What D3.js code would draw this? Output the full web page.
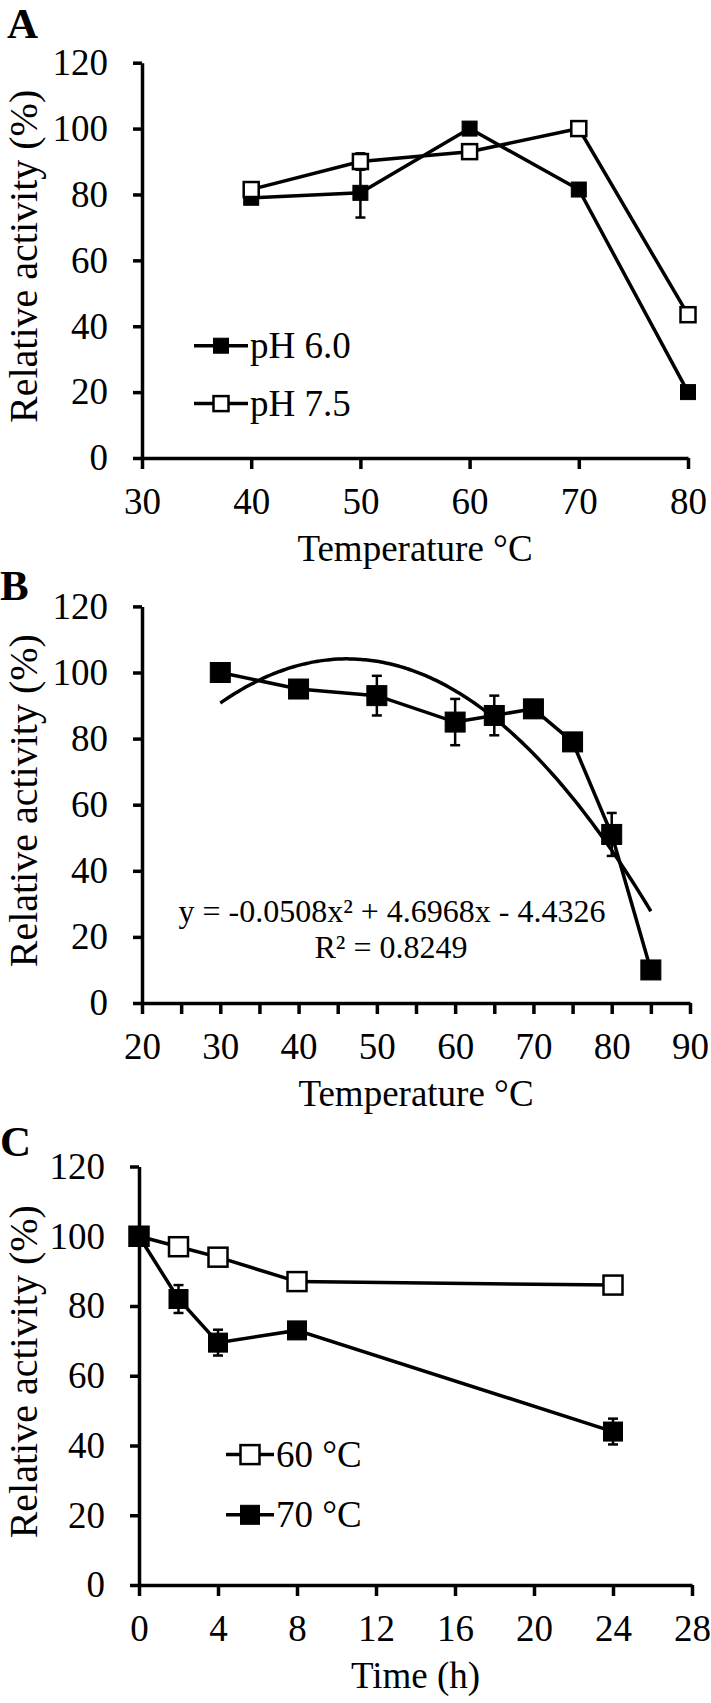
<!DOCTYPE html>
<html>
<head>
<meta charset="utf-8">
<script src="https://cdn.jsdelivr.net/npm/d3@7"></script>
<style>
	body { margin: 0; background: #fff; }
	svg { display: block; }
	text { font-family: "Liberation Serif", "Times New Roman", serif; fill: #000; }
</style>
</head>
<body>
<svg id="chart" width="711" height="1703"></svg>
<script>
(function() {
	'use strict';

	// --- Panel A: temperature profile at two pH values
	const tempA = [40, 50, 60, 70, 80];
	const pH60 = [79, 80.5, 100, 81.5, 20];
	const pH60Err = [0, 7.5, 0, 0, 0];
	const pH75 = [81.5, 90, 93, 100, 43.5];
	const pH75Err = [0, 2.5, 0, 0, 0];
	const ticksA = [30, 40, 50, 60, 70, 80];

	// --- Panel B: temperature profile with quadratic fit
	const tempB = [30, 40, 50, 60, 65, 70, 75, 80, 85];
	const actB = [100, 95, 93, 85, 87, 89, 79, 51, 10];
	const actBErr = [0, 0, 6, 7, 6, 2.5, 0, 6.5, 0];
	const fitB = [-0.0508, 4.6968, -4.4326];
	const ticksB = [20, 25, 30, 35, 40, 45, 50, 55, 60, 65, 70, 75, 80, 85, 90];
	const labelsB = [20, 30, 40, 50, 60, 70, 80, 90];

	// --- Panel C: thermostability over time
	const timeC = [0, 2, 4, 8, 24];
	const at60 = [100, 97, 94, 87, 86];
	const at70 = [100, 82, 69.5, 73, 44];
	const at70Err = [0, 4, 3.7, 0, 3.7];
	const ticksC = [0, 4, 8, 12, 16, 20, 24, 28];

	const yTicks = [0, 20, 40, 60, 80, 100, 120];

	const svg = d3.select('#chart');

	function panel(opt) {
		const g = svg.append('g');
		const x = d3.scaleLinear().domain(opt.xDomain).range([opt.left, opt.right]);
		const y = d3.scaleLinear().domain([0, 120]).range([opt.bottom, opt.top]);

		const yAxis = g.append('g')
			.attr('transform', 'translate(' + opt.left + ',0)')
			.call(d3.axisLeft(y).tickValues(yTicks).tickSize(9).tickSizeOuter(0).tickPadding(25));

		const xAxis = g.append('g')
			.attr('transform', 'translate(0,' + opt.bottom + ')')
			.call(d3.axisBottom(x).tickValues(opt.xTicks).tickSize(11).tickSizeOuter(0).tickPadding(19)
				.tickFormat(function(d) { return opt.xLabels.indexOf(d) >= 0 ? d : ''; }));

		[yAxis, xAxis].forEach(function(a) {
			a.attr('font-family', null).attr('font-size', null);
			a.select('.domain').attr('stroke', '#000').attr('stroke-width', 3.5);
			a.selectAll('.tick line').attr('stroke', '#000').attr('stroke-width', 3.5);
			a.selectAll('.tick text').style('font-size', '37px');
		});

		g.append('text')
			.attr('transform', 'translate(37,' + ((opt.top + opt.bottom) / 2 - 4) + ') rotate(-90)')
			.attr('text-anchor', 'middle')
			.style('font-size', '40px')
			.text('Relative activity (%)');

		g.append('text')
			.attr('x', (opt.left + opt.right) / 2)
			.attr('y', opt.bottom + 103)
			.attr('text-anchor', 'middle')
			.style('font-size', '37px')
			.text(opt.xTitle);

		g.append('text')
			.attr('x', opt.letterX)
			.attr('y', opt.letterY)
			.style('font-size', '43px')
			.style('font-weight', 'bold')
			.text(opt.letter);

		return { g: g, x: x, y: y };
	}

	function series(p, xs, ys, errs, filled, size) {
		const pts = xs.map(function(d, i) { return { x: d, y: ys[i], e: errs ? errs[i] : 0 }; });
		const line = d3.line().x(function(d) { return p.x(d.x); }).y(function(d) { return p.y(d.y); });
		p.g.append('path')
			.datum(pts)
			.attr('d', line)
			.attr('fill', 'none')
			.attr('stroke', '#000')
			.attr('stroke-width', 3.5);

		const eb = p.g.append('g').attr('stroke', '#000').attr('stroke-width', 2.5);
		pts.filter(function(d) { return d.e > 0; }).forEach(function(d) {
			const cx = p.x(d.x);
			eb.append('line').attr('x1', cx).attr('x2', cx).attr('y1', p.y(d.y - d.e)).attr('y2', p.y(d.y + d.e));
			[d.y - d.e, d.y + d.e].forEach(function(v) {
				eb.append('line').attr('x1', cx - 5).attr('x2', cx + 5).attr('y1', p.y(v)).attr('y2', p.y(v));
			});
		});

		p.g.selectAll(null)
			.data(pts)
			.enter().append('rect')
			.attr('x', function(d) { return p.x(d.x) - size / 2; })
			.attr('y', function(d) { return p.y(d.y) - size / 2; })
			.attr('width', size)
			.attr('height', size)
			.attr('fill', filled ? '#000' : '#fff')
			.attr('stroke', '#000')
			.attr('stroke-width', filled ? 1 : 2.5);
	}

	function legendRow(x0, x1, yy, label, filled, size) {
		svg.append('line')
			.attr('x1', x0).attr('x2', x1).attr('y1', yy).attr('y2', yy)
			.attr('stroke', '#000').attr('stroke-width', 3.5);
		const cx = (x0 + x1) / 2;
		svg.append('rect')
			.attr('x', cx - size / 2).attr('y', yy - size / 2)
			.attr('width', size).attr('height', size)
			.attr('fill', filled ? '#000' : '#fff')
			.attr('stroke', '#000').attr('stroke-width', filled ? 1 : 2.5);
		svg.append('text')
			.attr('x', x1 + 2).attr('y', yy + 12)
			.style('font-size', '37px')
			.text(label);
	}

	// Panel A
	const pa = panel({
		left: 142, right: 688, top: 62.7, bottom: 458,
		xDomain: [30, 80], xTicks: ticksA, xLabels: ticksA,
		xTitle: 'Temperature °C', letter: 'A', letterX: 7, letterY: 38
	});
	series(pa, tempA, pH60, pH60Err, true, 15);
	series(pa, tempA, pH75, pH75Err, false, 15);
	legendRow(194, 248, 345.7, 'pH 6.0', true, 15);
	legendRow(194, 248, 403.6, 'pH 7.5', false, 15);

	// Panel B
	const pb = panel({
		left: 142, right: 690, top: 606.4, bottom: 1003,
		xDomain: [20, 90], xTicks: ticksB, xLabels: labelsB,
		xTitle: 'Temperature °C', letter: 'B', letterX: 0, letterY: 600
	});
	const fitLine = d3.line()
		.curve(d3.curveBasis)
		.x(function(t) { return pb.x(t); })
		.y(function(t) { return pb.y(fitB[0] * t * t + fitB[1] * t + fitB[2]); });
	pb.g.append('path')
		.datum(d3.range(tempB[0], tempB[tempB.length - 1] + 0.01, 0.5))
		.attr('d', fitLine)
		.attr('fill', 'none')
		.attr('stroke', '#000')
		.attr('stroke-width', 3.5);
	series(pb, tempB, actB, actBErr, true, 20);
	pb.g.append('text')
		.attr('x', 392).attr('y', 922)
		.attr('text-anchor', 'middle')
		.style('font-size', '32px')
		.text('y = -0.0508x² + 4.6968x - 4.4326');
	pb.g.append('text')
		.attr('x', 391).attr('y', 958)
		.attr('text-anchor', 'middle')
		.style('font-size', '32px')
		.text('R² = 0.8249');

	// Panel C
	const pc = panel({
		left: 139, right: 692, top: 1166.5, bottom: 1585,
		xDomain: [0, 28], xTicks: ticksC, xLabels: ticksC,
		xTitle: 'Time (h)', letter: 'C', letterX: 0, letterY: 1156
	});
	series(pc, timeC, at60, null, false, 19);
	series(pc, timeC, at70, at70Err, true, 19);
	legendRow(226, 274, 1454.6, '60 °C', false, 19);
	legendRow(226, 274, 1514.8, '70 °C', true, 19);
})();
</script>
</body>
</html>
